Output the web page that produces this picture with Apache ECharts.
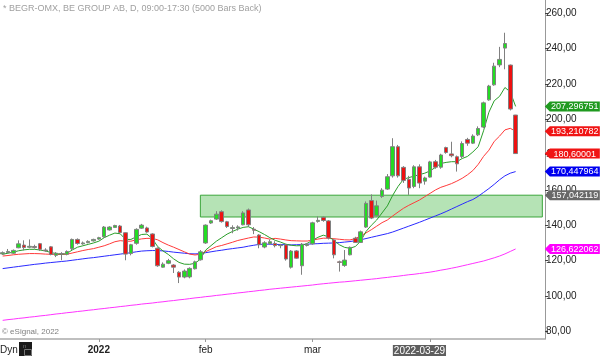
<!DOCTYPE html>
<html><head><meta charset="utf-8">
<script src="https://cdn.jsdelivr.net/npm/echarts@6/dist/echarts.min.js"></script>
<style>html,body{margin:0;padding:0;background:#fff}#c{width:600px;height:357px}</style>
</head><body><div id="c"></div>
<script>
// ---- data ----
const closedDays = ['2021-12-24','2021-12-31','2022-01-06','2022-04-15','2022-04-18'];
const xLabels = {'2022-01-03':'2022','2022-02-01':'feb','2022-03-01':'mar','2022-03-29':'2022-03-29'};
const xTickDates = ['2022-01-03','2022-02-01','2022-03-01','2022-03-31'];
const yTicks = [80,100,120,140,160,180,200,220,240,260];

const opens  = [123.8,124.6,124.2,127.3,128.8,127.6,128.0,129.6,126.0,127.8,123.0,124.0,123.6,126.8,132.0,129.5,130.2,131.2,132.2,133.5,137.4,138.8,139.6,135.8,124.0,129.8,138.4,138.5,135.1,127.0,116.3,118.5,117.5,113.4,110.7,110.8,115.4,120.5,130.0,141.3,143.5,147.7,142.0,138.2,138.5,140.3,148.7,137.8,134.5,127.7,129.6,129.7,128.5,128.9,116.3,125.5,117.1,128.6,129.5,142.2,144.5,142.5,131.7,119.3,117.3,123.3,132.7,130.3,139.0,154.0,145.4,156.3,160.5,168.0,184.5,172.8,166.0,162.0,173.1,165.0,167.3,176.0,172.9,184.0,180.4,178.8,178.9,188.6,186.5,191.2,195.6,211.0,219.5,230.8,240.3,230.7,202.4];
const closes = [124.5,125.2,125.8,129.5,127.4,128.1,127.4,126.4,125.6,123.5,124.2,123.7,125.2,132.0,129.7,130.0,130.9,132.0,133.0,139.0,139.0,139.9,135.9,123.7,129.0,137.7,140.1,136.2,128.0,117.1,118.0,120.0,116.3,110.7,114.1,115.6,119.3,125.0,140.1,142.6,146.3,142.1,139.3,138.7,139.1,147.0,140.3,137.2,129.0,130.1,130.7,128.5,128.8,120.9,125.4,121.4,129.3,129.2,141.4,142.8,142.7,132.8,123.3,119.0,120.3,127.5,130.3,136.3,152.4,144.1,151.0,159.9,167.5,184.5,168.0,165.4,161.1,173.1,163.9,166.8,175.9,172.9,179.8,181.2,179.4,174.8,186.3,186.5,190.5,194.8,209.3,218.8,230.1,233.9,242.9,205.8,180.6];
const highs  = [125.2,126.6,126.3,131.5,131.5,132.0,129.0,130.0,127.0,128.3,124.8,124.8,125.8,132.5,132.6,130.8,131.5,132.4,133.5,139.6,139.5,140.3,140.2,136.0,129.5,138.3,140.8,139.2,135.5,127.5,119.0,121.0,118.0,114.0,115.0,116.2,120.0,126.0,140.5,143.2,148.0,148.5,142.5,140.0,140.0,148.0,149.5,139.0,135.0,131.0,132.0,131.0,129.5,129.5,126.0,126.0,130.0,130.0,142.0,145.0,145.0,143.0,132.0,120.0,126.0,128.0,133.5,137.0,153.5,157.5,154.0,161.0,169.0,189.3,185.5,173.5,168.0,174.0,174.5,167.5,176.5,177.0,180.5,184.5,187.3,179.5,187.5,189.5,191.5,196.0,210.0,219.5,232.0,241.0,249.0,231.0,202.5];
const lows   = [123.2,124.2,123.8,127.0,125.8,127.0,126.8,125.5,125.0,123.0,122.0,120.2,123.0,126.0,129.0,129.0,129.8,130.8,131.8,133.0,137.0,138.5,135.5,120.2,123.0,129.0,138.0,135.8,127.5,116.5,116.0,118.0,113.0,107.3,110.0,110.0,115.0,120.0,129.5,140.8,143.0,141.5,138.5,135.5,137.0,140.0,139.0,135.0,127.0,127.0,129.0,127.5,127.0,120.0,115.5,121.0,112.0,128.0,129.0,141.5,142.0,132.0,121.3,113.8,116.5,123.0,130.0,130.0,138.5,143.5,145.0,155.5,160.0,167.0,167.0,164.0,157.2,161.0,161.0,163.0,167.0,172.0,172.0,180.5,178.5,170.4,178.0,185.0,186.0,190.5,195.0,210.5,219.0,229.5,228.3,205.0,180.5];

const maGreen = [123.6,124.2,124.8,125.6,126.1,126.4,126.4,126.0,125.5,124.6,124.0,123.6,124.0,126.0,127.6,128.4,129.2,130.0,131.0,133.0,134.4,135.6,135.2,132.0,132.0,133.5,134.8,135.0,132.5,128.0,125.5,123.5,121.0,119.0,118.0,117.9,118.5,120.8,126.0,128.5,131.0,133.0,135.0,136.5,137.8,138.8,139.2,137.8,136.4,134.8,133.0,131.5,130.5,129.3,128.7,128.4,128.5,129.8,131.5,133.2,134.4,133.5,131.5,129.0,127.5,127.0,128.0,131.0,136.5,140.0,143.0,147.0,151.0,157.0,162.0,166.0,167.0,167.8,168.7,169.5,170.8,172.8,175.0,175.6,176.0,176.0,177.8,179.0,181.5,184.5,193.5,204.0,210.5,213.0,218.0,215.5,207.3];
const maRed = [122.6,122.9,123.3,123.6,123.8,124.0,124.0,123.9,123.7,123.6,123.5,123.5,123.6,124.3,125.0,125.7,126.3,126.8,127.6,128.4,129.5,130.7,131.3,131.0,131.0,131.8,132.3,132.6,132.6,131.8,130.2,128.8,127.6,126.3,125.0,123.7,123.2,123.6,125.1,126.5,127.9,128.6,129.5,130.4,131.4,132.1,132.8,133.4,133.3,132.8,132.2,132.6,132.2,131.7,131.3,131.2,131.1,131.1,131.6,132.2,132.7,132.7,132.4,132.1,131.8,131.7,132.5,134.0,135.7,137.5,139.5,141.5,143.0,145.3,147.5,149.6,151.3,152.8,154.3,156.2,158.1,160.0,161.5,162.5,163.6,165.0,166.6,168.6,171.0,174.5,179.0,182.5,187.5,190.5,194.0,194.9,193.2];
const maBlue = [115.5,115.9,116.3,116.7,117.1,117.5,117.9,118.2,118.6,118.9,119.2,119.5,119.8,120.2,120.6,121.0,121.4,121.7,122.1,122.5,122.9,123.3,123.7,124.1,124.5,125.0,125.4,125.6,125.7,125.7,125.5,125.2,124.8,124.5,124.2,123.9,123.8,124.0,124.5,125.0,125.5,125.9,126.4,126.8,127.2,127.6,128.2,128.7,129.2,129.3,129.3,129.2,129.1,129.0,128.9,129.0,129.1,129.3,129.5,129.6,129.8,129.9,130.0,130.2,130.5,130.8,131.3,131.8,132.5,133.2,133.9,134.6,135.3,136.2,137.3,138.4,139.5,140.6,141.7,142.9,144.1,145.3,146.5,147.8,149.2,150.6,152.0,153.4,154.6,156.4,158.6,160.8,163.2,165.8,168.0,169.5,170.4];
const maMagenta = [86.2,86.6,86.9,87.3,87.6,88.0,88.3,88.7,89.0,89.4,89.8,90.1,90.5,90.8,91.2,91.5,91.9,92.2,92.6,92.9,93.3,93.6,94.0,94.3,94.7,95.0,95.4,95.7,96.0,96.4,96.7,97.1,97.4,97.8,98.1,98.5,98.9,99.2,99.6,99.9,100.3,100.6,101.0,101.3,101.7,102.0,102.4,102.7,103.1,103.4,103.8,104.1,104.4,104.7,105.0,105.3,105.6,105.9,106.2,106.6,106.9,107.2,107.5,107.8,108.0,108.3,108.6,108.9,109.2,109.5,109.8,110.2,110.5,110.9,111.2,111.6,112.0,112.3,112.7,113.1,113.5,114.0,114.6,115.1,115.7,116.3,117.0,117.7,118.4,119.1,119.8,120.7,121.6,122.6,123.8,125.2,126.6];

const zoneStartDate = '2022-01-31';
const zoneTop = 157.042119, zoneBottom = 144.7;
const tagGreen = 207.296751, tagRed = 193.210782, tagClose = 180.60001, tagBlue = 170.447964, tagZone = 157.042119, tagMagenta = 126.622062;

// ---- build ----
function tradingDays(start, n, closed) {
  const out = []; const d = new Date(start + 'T12:00:00Z');
  while (out.length < n) {
    const wd = d.getUTCDay(); const s = d.toISOString().slice(0, 10);
    if (wd !== 0 && wd !== 6 && closed.indexOf(s) < 0) out.push(s);
    d.setUTCDate(d.getUTCDate() + 1);
  }
  return out;
}
const categories = tradingDays('2021-12-06', 102, closedDays);
const lastCat = categories[categories.length - 1];
const candles = opens.map((o, i) => [o, closes[i], lows[i], highs[i]]);

const FONT = 'Liberation Sans, Arial, sans-serif';
function tag(value, color) {
  return {
    coord: [lastCat, value],
    symbol: 'path://M0,5L5,0L55,0L55,10L5,10Z',
    symbolSize: [55, 10], symbolKeepAspect: false, symbolOffset: [30, 0],
    itemStyle: { color: color },
    label: { show: true, position: 'inside', offset: [2.5, 0.5], formatter: String(value).replace('.', ','),
             color: '#fff', fontSize: 9, fontFamily: FONT }
  };
}
function lineSeries(name, data, color, z, extra) {
  return Object.assign({ name, type: 'line', data, symbol: 'none', showSymbol: false, z,
    lineStyle: { color, width: 1 }, itemStyle: { color }, animation: false, silent: true }, extra || {});
}

const chart = echarts.init(document.getElementById('c'), null, { renderer: 'canvas' });
chart.setOption({
  animation: false,
  backgroundColor: '#fff',
  grid: { left: 0, right: 55, top: 0, bottom: 18 },
  xAxis: {
    type: 'category', data: categories, boundaryGap: true,
    axisLine: { lineStyle: { color: '#aaa', width: 1.5 } },
    axisTick: { show: true, alignWithLabel: true, length: 3, lineStyle: { color: '#999' },
                interval: (i, v) => xTickDates.indexOf(v) >= 0 },
    axisLabel: {
      interval: (i, v) => v in xLabels, margin: 6, fontSize: 10, color: '#222', fontFamily: FONT,
      formatter: (v) => {
        const t = xLabels[v];
        if (t === '2022') return '{b|' + t + '}';
        if (t === '2022-03-29') return '{hl|' + t + '}';
        return t;
      },
      rich: {
        b: { fontWeight: 'bold', fontSize: 10, color: '#222', fontFamily: FONT },
        hl: { backgroundColor: '#5e5e5e', color: '#fff', fontSize: 10, padding: [1, 1, 0, 1], fontFamily: FONT }
      }
    },
    splitLine: { show: false }
  },
  yAxis: {
    type: 'value', position: 'right', min: 75.64, max: 267.53, scale: true,
    axisLine: { show: true, lineStyle: { color: '#999', width: 1 } },
    axisTick: { show: true, length: 3, customValues: yTicks, lineStyle: { color: '#444' } },
    axisLabel: { customValues: yTicks, margin: 1, fontSize: 10, color: '#222', fontFamily: FONT,
                 formatter: (v) => v.toFixed(2).replace('.', ',') },
    splitLine: { show: false }
  },
  series: [
    lineSeries('ma200', maMagenta, '#ff33ff', 1, {
      markArea: { silent: true, itemStyle: { color: '#b5e3b5', borderColor: '#3aa53a', borderWidth: 1 },
        data: [[{ xAxis: zoneStartDate, yAxis: zoneTop }, { xAxis: lastCat, yAxis: zoneBottom }]] },
      markPoint: { silent: true, data: [tag(tagMagenta, '#ff00ff')] }
    }),
    lineSeries('ma50', maBlue, '#2a2aff', 3, { markPoint: { silent: true, data: [tag(tagBlue, '#0000f0'), tag(tagZone, '#686868')] } }),
    lineSeries('ma20', maRed, '#ff3a3a', 3, { markPoint: { silent: true, data: [tag(tagRed, '#f01414')] } }),
    lineSeries('ma5', maGreen, '#2a9f2a', 3, { markPoint: { silent: true, data: [tag(tagGreen, '#1f9a1f')] } }),
    {
      name: 'price', type: 'candlestick', data: candles, barWidth: 4, z: 4, clip: false, silent: true,
      itemStyle: { color: '#22dd22', color0: '#ee1111', borderColor: '#808080', borderColor0: '#808080', borderWidth: 1 },
      markPoint: { silent: true, data: [tag(tagClose, '#f01414')] }
    }
  ],
  graphic: [
    { type: 'text', left: 3, top: 4, style: { text: '* BEGR-OMX, BE GROUP AB, D, 09:00-17:30 (5000 Bars Back)', fill: '#a0a0a0', font: '9px ' + FONT } },
    { type: 'text', left: 2, top: 328, style: { text: '© eSignal, 2022', fill: '#808080', font: '8px ' + FONT } },
    { type: 'text', left: 0, top: 345, style: { text: 'Dyn', fill: '#222', font: '10px ' + FONT } },
    { type: 'rect', left: 19, top: 342, shape: { width: 13, height: 14 }, style: { fill: '#1a1a1a' } },
    { type: 'rect', left: 22, top: 347, shape: { width: 7, height: 6 }, style: { fill: 'none', stroke: '#777', lineWidth: 1 } },
    { type: 'text', left: 23, top: 343, style: { text: 'n', fill: '#777', font: '6px ' + FONT } }
  ]
});
</script>
</body></html>
